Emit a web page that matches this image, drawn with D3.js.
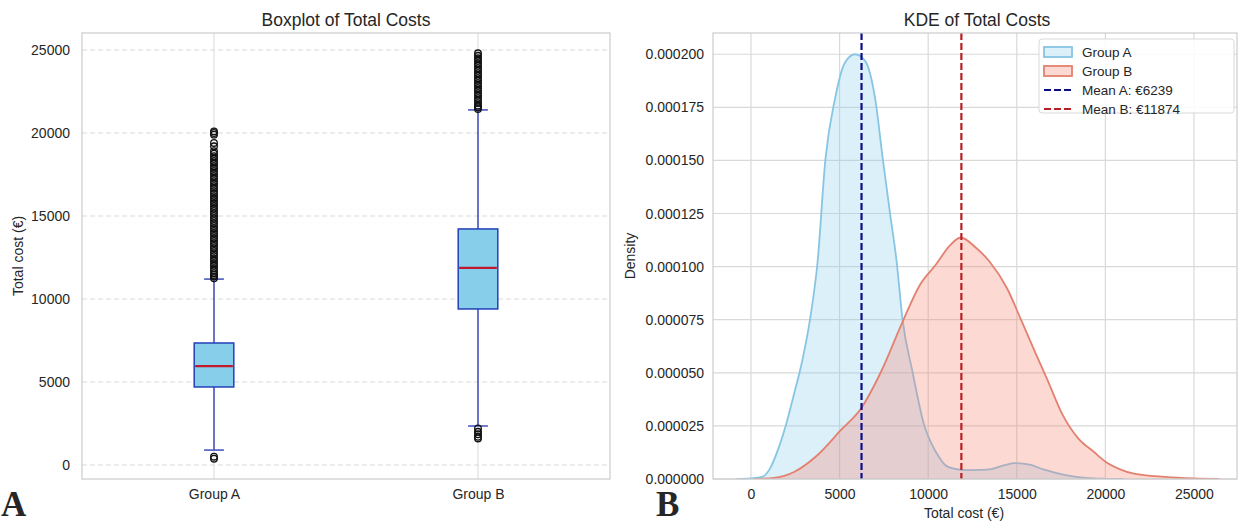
<!DOCTYPE html>
<html>
<head>
<meta charset="utf-8">
<script src="https://cdn.jsdelivr.net/npm/d3@7"></script>
<style>
  body { margin: 0; background: #fff; }
  text { font-family: "Liberation Sans", Arial, sans-serif; fill: #262626; }
</style>
</head>
<body>
<svg id="chart" width="1239" height="524"></svg>
<script>
// ---- boxplot data ----
const groups = ["Group A", "Group B"];
const q1 = [4700, 9400];
const medians = [5960, 11870];
const q3 = [7350, 14220];
const whiskerLow = [900, 2350];
const whiskerHigh = [11200, 21390];
const outliersA = [380, 500,
  11250, 11350, 11450, 11550, 11700, 11850, 12000, 12150, 12300, 12450, 12600, 12750,
  12900, 13050, 13200, 13350, 13500, 13650, 13800, 13950, 14100, 14250, 14400, 14550,
  14700, 14850, 15000, 15150, 15300, 15450, 15600, 15750, 15900, 16050, 16200, 16350,
  16500, 16650, 16800, 16950, 17100, 17250, 17400, 17550, 17700, 17850, 18000, 18150,
  18300, 18450, 18600, 18750, 18900, 19200, 19400, 19900, 20000, 20100];
const outliersB = [1600, 1700, 1850, 2000, 2200,
  21450, 21550, 21650, 21800, 21950, 22100, 22250, 22400, 22550, 22700, 22850, 23000,
  23150, 23300, 23450, 23600, 23750, 23900, 24050, 24200, 24350, 24500, 24650, 24800];
const boxYTicks = [0, 5000, 10000, 15000, 20000, 25000];

// ---- KDE data ----
const kdeXA = [-800, 0, 620, 1070, 1520, 1975, 2430, 2880, 3330, 3760, 4200, 4740, 5300, 5870,
  6430, 6990, 7450, 7850, 8220, 8555, 9115, 9770, 10440, 11110, 12020, 13000, 13570, 14300,
  14900, 15800, 16500, 17140, 18000, 18900, 20000, 21000];
const kdeYA = [0, 0.0000003, 0.000001, 0.0000049, 0.0000137, 0.0000255, 0.00004, 0.0000552,
  0.000075, 0.0001024, 0.0001505, 0.000179, 0.000196, 0.0002, 0.000197, 0.00018, 0.00015,
  0.000125, 0.0001024, 0.000075, 0.0000505, 0.0000255, 0.0000127, 0.0000057, 0.0000042,
  0.0000043, 0.0000047, 0.0000065, 0.0000075, 0.0000066, 0.0000045, 0.000003, 0.0000015,
  0.0000005, 0.0000001, 0];
const kdeXB = [200, 1300, 2430, 3760, 5080, 6210, 7340, 8555, 9540, 10440, 11230, 11830, 12680,
  13460, 14450, 15240, 16020, 16700, 17590, 18480, 19360, 20030, 20940, 21610, 23360, 25000, 26400];
const kdeYB = [0, 0.0000005, 0.0000033, 0.0000113, 0.0000231, 0.0000332, 0.0000505, 0.000074,
  0.0000915, 0.000101, 0.00011, 0.0001137, 0.000109, 0.0001024, 0.0000898, 0.000075, 0.00006,
  0.0000473, 0.0000302, 0.000019, 0.0000127, 0.000008, 0.0000042, 0.0000025, 0.000001,
  0.0000003, 0];
const means = [6239, 11874];
const meanLabels = ["Mean A: €6239", "Mean B: €11874"];
const kdeXTicks = [0, 5000, 10000, 15000, 20000, 25000];
const kdeYTicks = [0, 0.000025, 0.00005, 0.000075, 0.0001, 0.000125, 0.00015, 0.000175, 0.0002];

const svg = d3.select("#chart");
svg.append("rect").attr("width", 1239).attr("height", 524).attr("fill", "#fff");

const gridColor = "#d9d9d9";
const frameColor = "#cccccc";
const tickFont = "14px";

// ================= Panel A: boxplot =================
const left = {x0: 82, x1: 610, y0: 33, y1: 479};
const bx = d3.scalePoint().domain(groups).range([left.x0, left.x1]).padding(0.5);
const by = d3.scaleLinear().domain([-843, 26024]).range([left.y1, left.y0]);
const gA = svg.append("g");

// dashed horizontal grid
gA.selectAll(".hgrid").data(boxYTicks).enter().append("line")
  .attr("x1", left.x0).attr("x2", left.x1)
  .attr("y1", d => by(d)).attr("y2", d => by(d))
  .attr("stroke", gridColor).attr("stroke-width", 1).attr("stroke-dasharray", "5,3");
// solid vertical grid
gA.selectAll(".vgrid").data(groups).enter().append("line")
  .attr("x1", d => bx(d)).attr("x2", d => bx(d))
  .attr("y1", left.y0).attr("y2", left.y1)
  .attr("stroke", gridColor).attr("stroke-width", 1);

gA.append("g")
  .attr("transform", `translate(${left.x0},0)`)
  .call(d3.axisLeft(by).tickValues(boxYTicks).tickFormat(d3.format("d")).tickSize(0).tickPadding(12))
  .call(g => g.select(".domain").remove())
  .selectAll("text").style("font-size", tickFont).attr("fill", "#262626")
  .style("font-family", "Liberation Sans, Arial, sans-serif");
gA.append("g")
  .attr("transform", `translate(0,${left.y1})`)
  .call(d3.axisBottom(bx).tickSize(0).tickPadding(10))
  .call(g => g.select(".domain").remove())
  .selectAll("text").style("font-size", tickFont).attr("fill", "#262626")
  .style("font-family", "Liberation Sans, Arial, sans-serif");

const boxW = bx.step() * 0.15;
const capW = boxW / 2;
const whiskerColor = "#3f4dbf";
const boxEdge = "#2440b8";

groups.forEach((gname, i) => {
  const cx = bx(gname);
  // whiskers
  gA.append("line").attr("x1", cx).attr("x2", cx)
    .attr("y1", by(whiskerLow[i])).attr("y2", by(q1[i]))
    .attr("stroke", whiskerColor).attr("stroke-width", 1.5);
  gA.append("line").attr("x1", cx).attr("x2", cx)
    .attr("y1", by(q3[i])).attr("y2", by(whiskerHigh[i]))
    .attr("stroke", whiskerColor).attr("stroke-width", 1.5);
  [whiskerLow[i], whiskerHigh[i]].forEach(v => {
    gA.append("line").attr("x1", cx - capW / 2).attr("x2", cx + capW / 2)
      .attr("y1", by(v)).attr("y2", by(v))
      .attr("stroke", whiskerColor).attr("stroke-width", 1.5);
  });
  // box
  gA.append("rect")
    .attr("x", cx - boxW / 2).attr("width", boxW)
    .attr("y", by(q3[i])).attr("height", by(q1[i]) - by(q3[i]))
    .attr("fill", "#87ceeb").attr("stroke", boxEdge).attr("stroke-width", 1.5);
  gA.append("line").attr("x1", cx - boxW / 2 + 1).attr("x2", cx + boxW / 2 - 1)
    .attr("y1", by(medians[i])).attr("y2", by(medians[i]))
    .attr("stroke", "#c0182c").attr("stroke-width", 2.2);
  // outliers
  const outs = i === 0 ? outliersA : outliersB;
  gA.selectAll(".out" + i).data(outs).enter().append("circle")
    .attr("cx", cx).attr("cy", d => by(d)).attr("r", 3.3)
    .attr("fill", "none").attr("stroke", "#111").attr("stroke-width", 1.3);
});

gA.append("rect")
  .attr("x", left.x0).attr("y", left.y0)
  .attr("width", left.x1 - left.x0).attr("height", left.y1 - left.y0)
  .attr("fill", "none").attr("stroke", frameColor).attr("stroke-width", 1.2);

gA.append("text").attr("x", (left.x0 + left.x1) / 2).attr("y", 26)
  .attr("text-anchor", "middle").style("font-size", "17.5px").text("Boxplot of Total Costs");
gA.append("text")
  .attr("transform", `translate(23,${(left.y0 + left.y1) / 2}) rotate(-90)`)
  .attr("text-anchor", "middle").style("font-size", tickFont).text("Total cost (€)");
gA.append("text").attr("x", 1).attr("y", 516)
  .style("font-family", "Liberation Serif, Times New Roman, serif")
  .style("font-weight", "bold").style("font-size", "35px").attr("fill", "#000").text("A");

// ================= Panel B: KDE =================
const right = {x0: 713, x1: 1237, y0: 33, y1: 479};
const kx = d3.scaleLinear().domain([-2144, 27430]).range([right.x0, right.x1]);
const ky = d3.scaleLinear().domain([0, 0.00021]).range([right.y1, right.y0]);
const gB = svg.append("g");

gB.selectAll(".kh").data(kdeYTicks).enter().append("line")
  .attr("x1", right.x0).attr("x2", right.x1)
  .attr("y1", d => ky(d)).attr("y2", d => ky(d))
  .attr("stroke", gridColor).attr("stroke-width", 1.2);
gB.selectAll(".kv").data(kdeXTicks).enter().append("line")
  .attr("x1", d => kx(d)).attr("x2", d => kx(d))
  .attr("y1", right.y0).attr("y2", right.y1)
  .attr("stroke", gridColor).attr("stroke-width", 1.2);

gB.append("g")
  .attr("transform", `translate(${right.x0},0)`)
  .call(d3.axisLeft(ky).tickValues(kdeYTicks).tickFormat(d3.format(".6f")).tickSize(0).tickPadding(9))
  .call(g => g.select(".domain").remove())
  .selectAll("text").style("font-size", tickFont).attr("fill", "#262626")
  .style("font-family", "Liberation Sans, Arial, sans-serif");
gB.append("g")
  .attr("transform", `translate(0,${right.y1})`)
  .call(d3.axisBottom(kx).tickValues(kdeXTicks).tickFormat(d3.format("d")).tickSize(0).tickPadding(10))
  .call(g => g.select(".domain").remove())
  .selectAll("text").style("font-size", tickFont).attr("fill", "#262626")
  .style("font-family", "Liberation Sans, Arial, sans-serif");

const seriesA = kdeXA.map((x, i) => ({x: x, y: kdeYA[i]}));
const seriesB = kdeXB.map((x, i) => ({x: x, y: kdeYB[i]}));
const area = d3.area().x(d => kx(d.x)).y0(ky(0)).y1(d => ky(d.y)).curve(d3.curveMonotoneX);
const line = d3.line().x(d => kx(d.x)).y(d => ky(d.y)).curve(d3.curveMonotoneX);

gB.append("clipPath").attr("id", "kclip").append("rect")
  .attr("x", right.x0).attr("y", right.y0)
  .attr("width", right.x1 - right.x0).attr("height", right.y1 - right.y0);
const plot = gB.append("g").attr("clip-path", "url(#kclip)");

plot.append("path").datum(seriesA).attr("d", area).attr("fill", "#87ceeb").attr("fill-opacity", 0.3);
plot.append("path").datum(seriesA).attr("d", line).attr("fill", "none")
  .attr("stroke", "#87c5e3").attr("stroke-width", 1.8);
plot.append("path").datum(seriesB).attr("d", area).attr("fill", "#fa8072").attr("fill-opacity", 0.3);
plot.append("path").datum(seriesB).attr("d", line).attr("fill", "none")
  .attr("stroke", "#e3806f").attr("stroke-width", 1.8);

const meanColors = ["#0d0d8a", "#b81f24"];
plot.selectAll(".mean").data(means).enter().append("line")
  .attr("x1", d => kx(d)).attr("x2", d => kx(d))
  .attr("y1", right.y0).attr("y2", right.y1)
  .attr("stroke", (d, i) => meanColors[i]).attr("stroke-width", 2.2)
  .attr("stroke-dasharray", "7,3");

gB.append("rect")
  .attr("x", right.x0).attr("y", right.y0)
  .attr("width", right.x1 - right.x0).attr("height", right.y1 - right.y0)
  .attr("fill", "none").attr("stroke", frameColor).attr("stroke-width", 1.2);

// legend
const leg = gB.append("g").attr("transform", "translate(1039,39)");
leg.append("rect").attr("width", 195).attr("height", 74).attr("rx", 3)
  .attr("fill", "#fff").attr("fill-opacity", 0.85).attr("stroke", "#d8d8d8");
const legendItems = [
  {label: "Group A", kind: "patch", fill: "#87ceeb", stroke: "#87c5e3"},
  {label: "Group B", kind: "patch", fill: "#fa8072", stroke: "#e3806f"},
  {label: meanLabels[0], kind: "line", stroke: meanColors[0]},
  {label: meanLabels[1], kind: "line", stroke: meanColors[1]}
];
legendItems.forEach((it, i) => {
  const cy = 13 + i * 19;
  if (it.kind === "patch") {
    leg.append("rect").attr("x", 5).attr("y", cy - 5).attr("width", 28).attr("height", 10)
      .attr("fill", it.fill).attr("fill-opacity", 0.3)
      .attr("stroke", it.stroke).attr("stroke-width", 1.8);
  } else {
    leg.append("line").attr("x1", 5).attr("x2", 33).attr("y1", cy).attr("y2", cy)
      .attr("stroke", it.stroke).attr("stroke-width", 2.2).attr("stroke-dasharray", "7,3");
  }
  leg.append("text").attr("x", 43).attr("y", cy + 5)
    .style("font-size", "13.5px").text(it.label);
});

gB.append("text").attr("x", 977).attr("y", 26)
  .attr("text-anchor", "middle").style("font-size", "17.5px").text("KDE of Total Costs");
gB.append("text").attr("x", 964).attr("y", 518)
  .attr("text-anchor", "middle").style("font-size", tickFont).text("Total cost (€)");
gB.append("text")
  .attr("transform", `translate(635,${(right.y0 + right.y1) / 2}) rotate(-90)`)
  .attr("text-anchor", "middle").style("font-size", tickFont).text("Density");
gB.append("text").attr("x", 656).attr("y", 516)
  .style("font-family", "Liberation Serif, Times New Roman, serif")
  .style("font-weight", "bold").style("font-size", "35px").attr("fill", "#000").text("B");
</script>
</body>
</html>
